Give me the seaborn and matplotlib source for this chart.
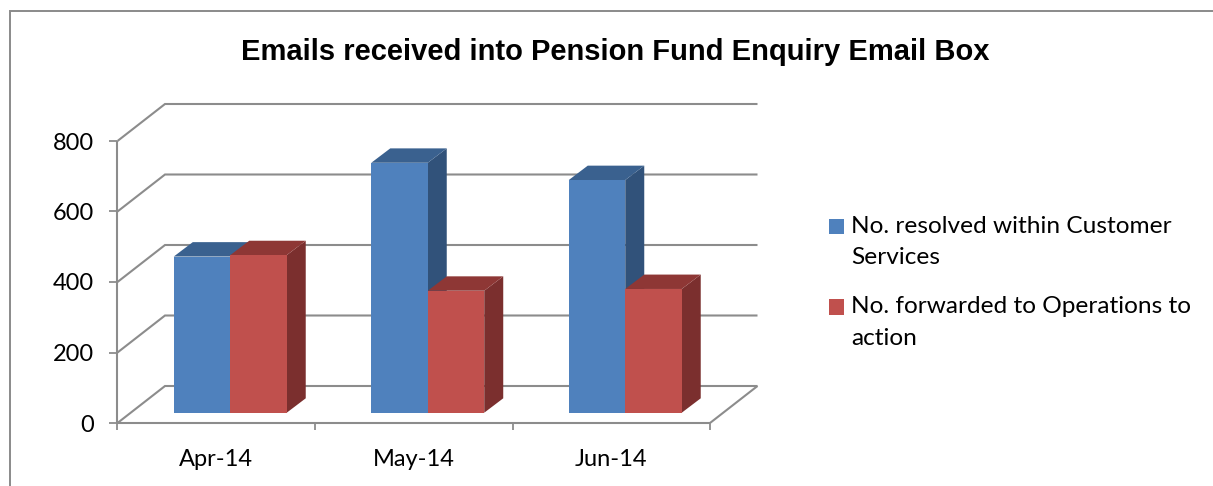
import matplotlib
matplotlib.use("Agg")
import matplotlib.pyplot as plt
import pandas as pd
import seaborn as sns
from matplotlib.lines import Line2D
from matplotlib.patches import Polygon
from matplotlib.transforms import Affine2D, IdentityTransform

months = ["Apr-14", "May-14", "Jun-14"]
resolved = [443, 709, 660]
forwarded = [447, 346, 351]
series_names = ["No. resolved within Customer\nServices", "No. forwarded to Operations to\naction"]
title = "Emails received into Pension Fund Enquiry Email Box"
y_ticks = [0, 200, 400, 600, 800]

W, H = 1213, 486
FRONT = ["#4F81BD", "#C0504D"]
SIDE = ["#31527A", "#7B2F2E"]
TOP = ["#3A618F", "#8E3735"]
GRID = "#8C8C8C"
WALL = (47.5, 37)           # depth of the chart box, px (right, up)
BAR_SHIFT = (14, 10.3)      # bars stand in the middle of the floor, px (right, up)
BAR_DEPTH = (19, 14.4)      # depth of a bar, px

sns.set_theme(style="white")
plt.rcParams["font.family"] = ["Lato", "DejaVu Sans"]

fig = plt.figure(figsize=(W / 100, H / 100), dpi=100)
ax = fig.add_axes([117.5 / W, (H - 423) / H, 592.5 / W, 282 / H])

df = pd.DataFrame({
    "month": months * 2,
    "count": resolved + forwarded,
    "series": [series_names[0]] * 3 + [series_names[1]] * 3,
})
sns.barplot(data=df, x="month", y="count", hue="series", hue_order=series_names,
            palette=FRONT, width=0.572, gap=0, saturation=1, ax=ax, legend=False,
            linewidth=0, zorder=3)

ax.set_xlim(-0.5, 2.5)
ax.set_ylim(0, 800)
ax.set_xlabel("")
ax.set_ylabel("")
for s in ax.spines.values():
    s.set_visible(False)


def px(x, y, dx=0.0, dy=0.0):
    p = ax.transData.transform((x, y))
    return (p[0] + dx, p[1] + dy)


def line(points, **kw):
    xs, ys = zip(*points)
    ax.add_line(Line2D(xs, ys, transform=IdentityTransform(), color=GRID, lw=1.5,
                       clip_on=False, solid_capstyle="butt", solid_joinstyle="miter", **kw))


# walls, floor and gridlines
for v in y_ticks:
    line([px(-0.5, v), px(-0.5, v, *WALL), px(2.5, v, *WALL)], zorder=1)
line([px(2.5, 0), px(2.5, 0, *WALL)], zorder=1)
line([px(-0.5, 0), px(2.5, 0)], zorder=2)
line([px(-0.5, 0), px(-0.5, 800)], zorder=2)

# extrude every bar
bars = list(ax.patches)
n = len(months)
order = sorted(range(len(bars)), key=lambda i: bars[i].get_x())
for rank, i in enumerate(order):
    b = bars[i]
    c = 0 if i < n else 1
    z = 3 + rank * 0.1
    x0, x1, h = b.get_x(), b.get_x() + b.get_width(), b.get_height()
    sx, sy = BAR_SHIFT
    ox, oy = sx + BAR_DEPTH[0], sy + BAR_DEPTH[1]
    b.set_transform(ax.transData + Affine2D().translate(sx, sy))
    b.set_clip_on(False)
    b.set_zorder(z + 0.02)
    ax.add_patch(Polygon([px(x1, 0, sx, sy), px(x1, h, sx, sy), px(x1, h, ox, oy), px(x1, 0, ox, oy)],
                         closed=True, transform=IdentityTransform(), facecolor=SIDE[c],
                         edgecolor="none", clip_on=False, zorder=z))
    ax.add_patch(Polygon([px(x0, h, sx, sy), px(x1, h, sx, sy), px(x1, h, ox, oy), px(x0, h, ox, oy)],
                         closed=True, transform=IdentityTransform(), facecolor=TOP[c],
                         edgecolor="none", clip_on=False, zorder=z + 0.01))

# ticks
ax.set_yticks(y_ticks)
ax.set_xticks([-0.5, 0.5, 1.5, 2.5])
ax.set_xticklabels([])
ax.set_xticks([0, 1, 2], labels=months, minor=True)
ax.tick_params(axis="y", which="major", length=5.8, width=1.3, color=GRID, pad=11, labelsize=17,
               labelcolor="black", left=True)
for lab in ax.get_yticklabels():
    lab.set_verticalalignment("center_baseline")
ax.tick_params(axis="x", which="major", length=5, width=1.3, color=GRID, bottom=True)
ax.tick_params(axis="x", which="minor", length=0, pad=19, labelsize=17, labelcolor="black", bottom=True)

# legend
LEG_FS = 17.6
handles = [bars[0], bars[n]]
leg = ax.legend(handles, series_names, loc="upper left", bbox_to_anchor=(829 / W, (H - 216) / H),
                bbox_transform=fig.transFigure, frameon=False, fontsize=LEG_FS, handlelength=0.61,
                handleheight=0.61, handletextpad=0.29, labelspacing=1.15, borderpad=0, borderaxespad=0)
for t in leg.get_texts():
    t.set_linespacing(1.6)
    t.set_color("black")
for h in leg.legend_handles:
    h.set_y(h.get_y() + 11.2)

fig.text(615 / W, (H - 52) / H, title, ha="center", va="center", fontsize=21, fontweight="bold",
         family="Liberation Sans", color="black")

# outer frame
fig.add_artist(Line2D([10 / W, 10 / W, 1], [0, (H - 11) / H, (H - 11) / H], transform=fig.transFigure,
                      color="#8A8A8A", lw=1.4, solid_joinstyle="miter"))

fig.savefig("out.png", dpi=100)
